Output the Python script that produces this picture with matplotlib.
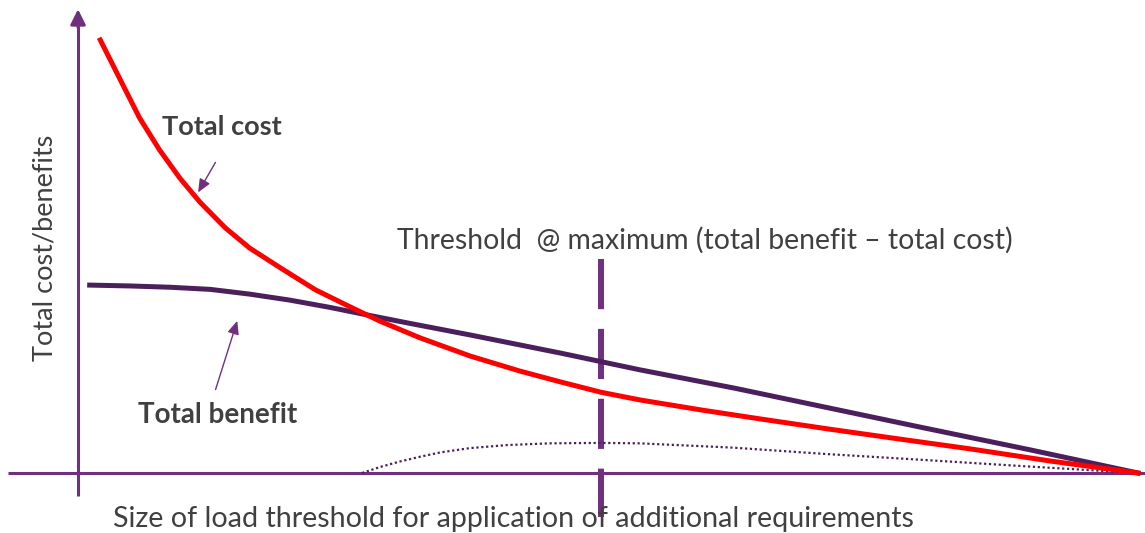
import numpy as np
import matplotlib
matplotlib.use("Agg")
import matplotlib.pyplot as plt

# load threshold (0-100) vs. value
cost_x = [2.1, 4.0, 5.8, 7.7, 9.6, 11.5, 13.9, 16.2, 19.1, 22.4, 25.7, 28.5, 32.3,
          37.0, 41.7, 45.5, 49.3, 53.0, 58.7, 64.3, 70.9, 77.5, 84.2, 91.7, 100.0]
cost_y = [100.7, 91.4, 82.6, 75.1, 68.6, 63.0, 57.0, 52.3, 47.7, 42.6, 38.6, 35.3, 31.4,
          27.2, 23.7, 21.2, 18.8, 17.0, 14.7, 12.6, 10.2, 7.9, 5.6, 2.8, 0.0]

benefit_x = [1.1, 4.9, 8.7, 12.5, 16.2, 20.0, 23.8, 27.6, 31.3, 37.0, 45.5, 53.0,
             62.0, 70.9, 79.4, 89.8, 100.0]
benefit_y = [43.7, 43.5, 43.2, 42.7, 41.6, 40.2, 38.5, 36.6, 34.8, 32.1, 27.9, 24.0,
             19.7, 15.1, 10.7, 5.4, 0.0]

# net benefit (benefit - cost) once benefit exceeds cost
net_x = [26.8, 28.5, 30.4, 32.3, 34.2, 37.0, 40.5, 44.5, 49.3, 53.0, 61.8, 70.7,
         79.4, 89.8, 100.0]
net_y = [0.0, 1.4, 2.7, 3.8, 4.8, 5.8, 6.5, 6.9, 7.0, 6.9, 5.9, 4.4, 3.1, 1.5, 0.0]

threshold = net_x[int(np.argmax(net_y))]

PURPLE = "#70307f"
DARK = "#4b1f5c"
RED = "#ff0000"
GREY = "#404040"
FONT = ["Lato", "DejaVu Sans"]

fig = plt.figure(figsize=(11.45, 5.33), dpi=100)
ax = fig.add_axes([0, 0, 1, 1])
ax.set_xlim(-7.36, 100.66)
ax.set_ylim(-13.95, 110.0)
ax.axis("off")

# axes drawn by hand
ax.plot([-6.6, 100.7], [0, 0], color=PURPLE, lw=2.2, solid_capstyle="butt", zorder=1)
ax.plot([0, 0], [-5.3, 104], color=PURPLE, lw=2.2, solid_capstyle="butt", zorder=1)
ax.annotate("", xy=(0, 108.5), xytext=(0, 103),
            arrowprops=dict(arrowstyle="-|>,head_length=0.9,head_width=0.45",
                            color=PURPLE, lw=2.2))

# threshold marker
ax.plot([threshold, threshold], [49.8, -10.2], color=PURPLE, lw=4.3,
        dashes=(8.4, 3.3), solid_capstyle="butt", zorder=2)

ax.plot(net_x, net_y, color=DARK, lw=1.6, ls=(0, (1, 1.2)), zorder=3)
ax.plot(benefit_x, benefit_y, color=DARK, lw=3.6, zorder=4)
ax.plot(cost_x, cost_y, color=RED, lw=3.6, zorder=5)

ax.text(13.6, 80.5, "Total cost", color=GREY, fontsize=19.5, fontweight="bold",
        family=FONT, ha="center", va="center")
ax.annotate("", xy=(11.2, 64.7), xytext=(13.1, 72.8),
            arrowprops=dict(arrowstyle="-|>,head_length=0.8,head_width=0.35",
                            color=PURPLE, lw=1.0))

ax.text(13.2, 13.5, "Total benefit", color=GREY, fontsize=20, fontweight="bold",
        family=FONT, ha="center", va="center")
ax.annotate("", xy=(15.1, 36.0), xytext=(12.9, 18.8),
            arrowprops=dict(arrowstyle="-|>,head_length=0.8,head_width=0.35",
                            color=PURPLE, lw=1.0))

ax.text(59.1, 54.2, "Threshold  @ maximum (total benefit \u2013 total cost)",
        color=GREY, fontsize=20.4, family=FONT, ha="center", va="center")
ax.text(41.1, -10.7, "Size of load threshold for application of additional requirements",
        color=GREY, fontsize=20.6, family=FONT, ha="center", va="center")
ax.text(-3.1, 52.3, "Total cost/benefits", color=GREY, fontsize=19.5, family=FONT,
        rotation=90, ha="center", va="center")

fig.savefig("out.png", dpi=100)
